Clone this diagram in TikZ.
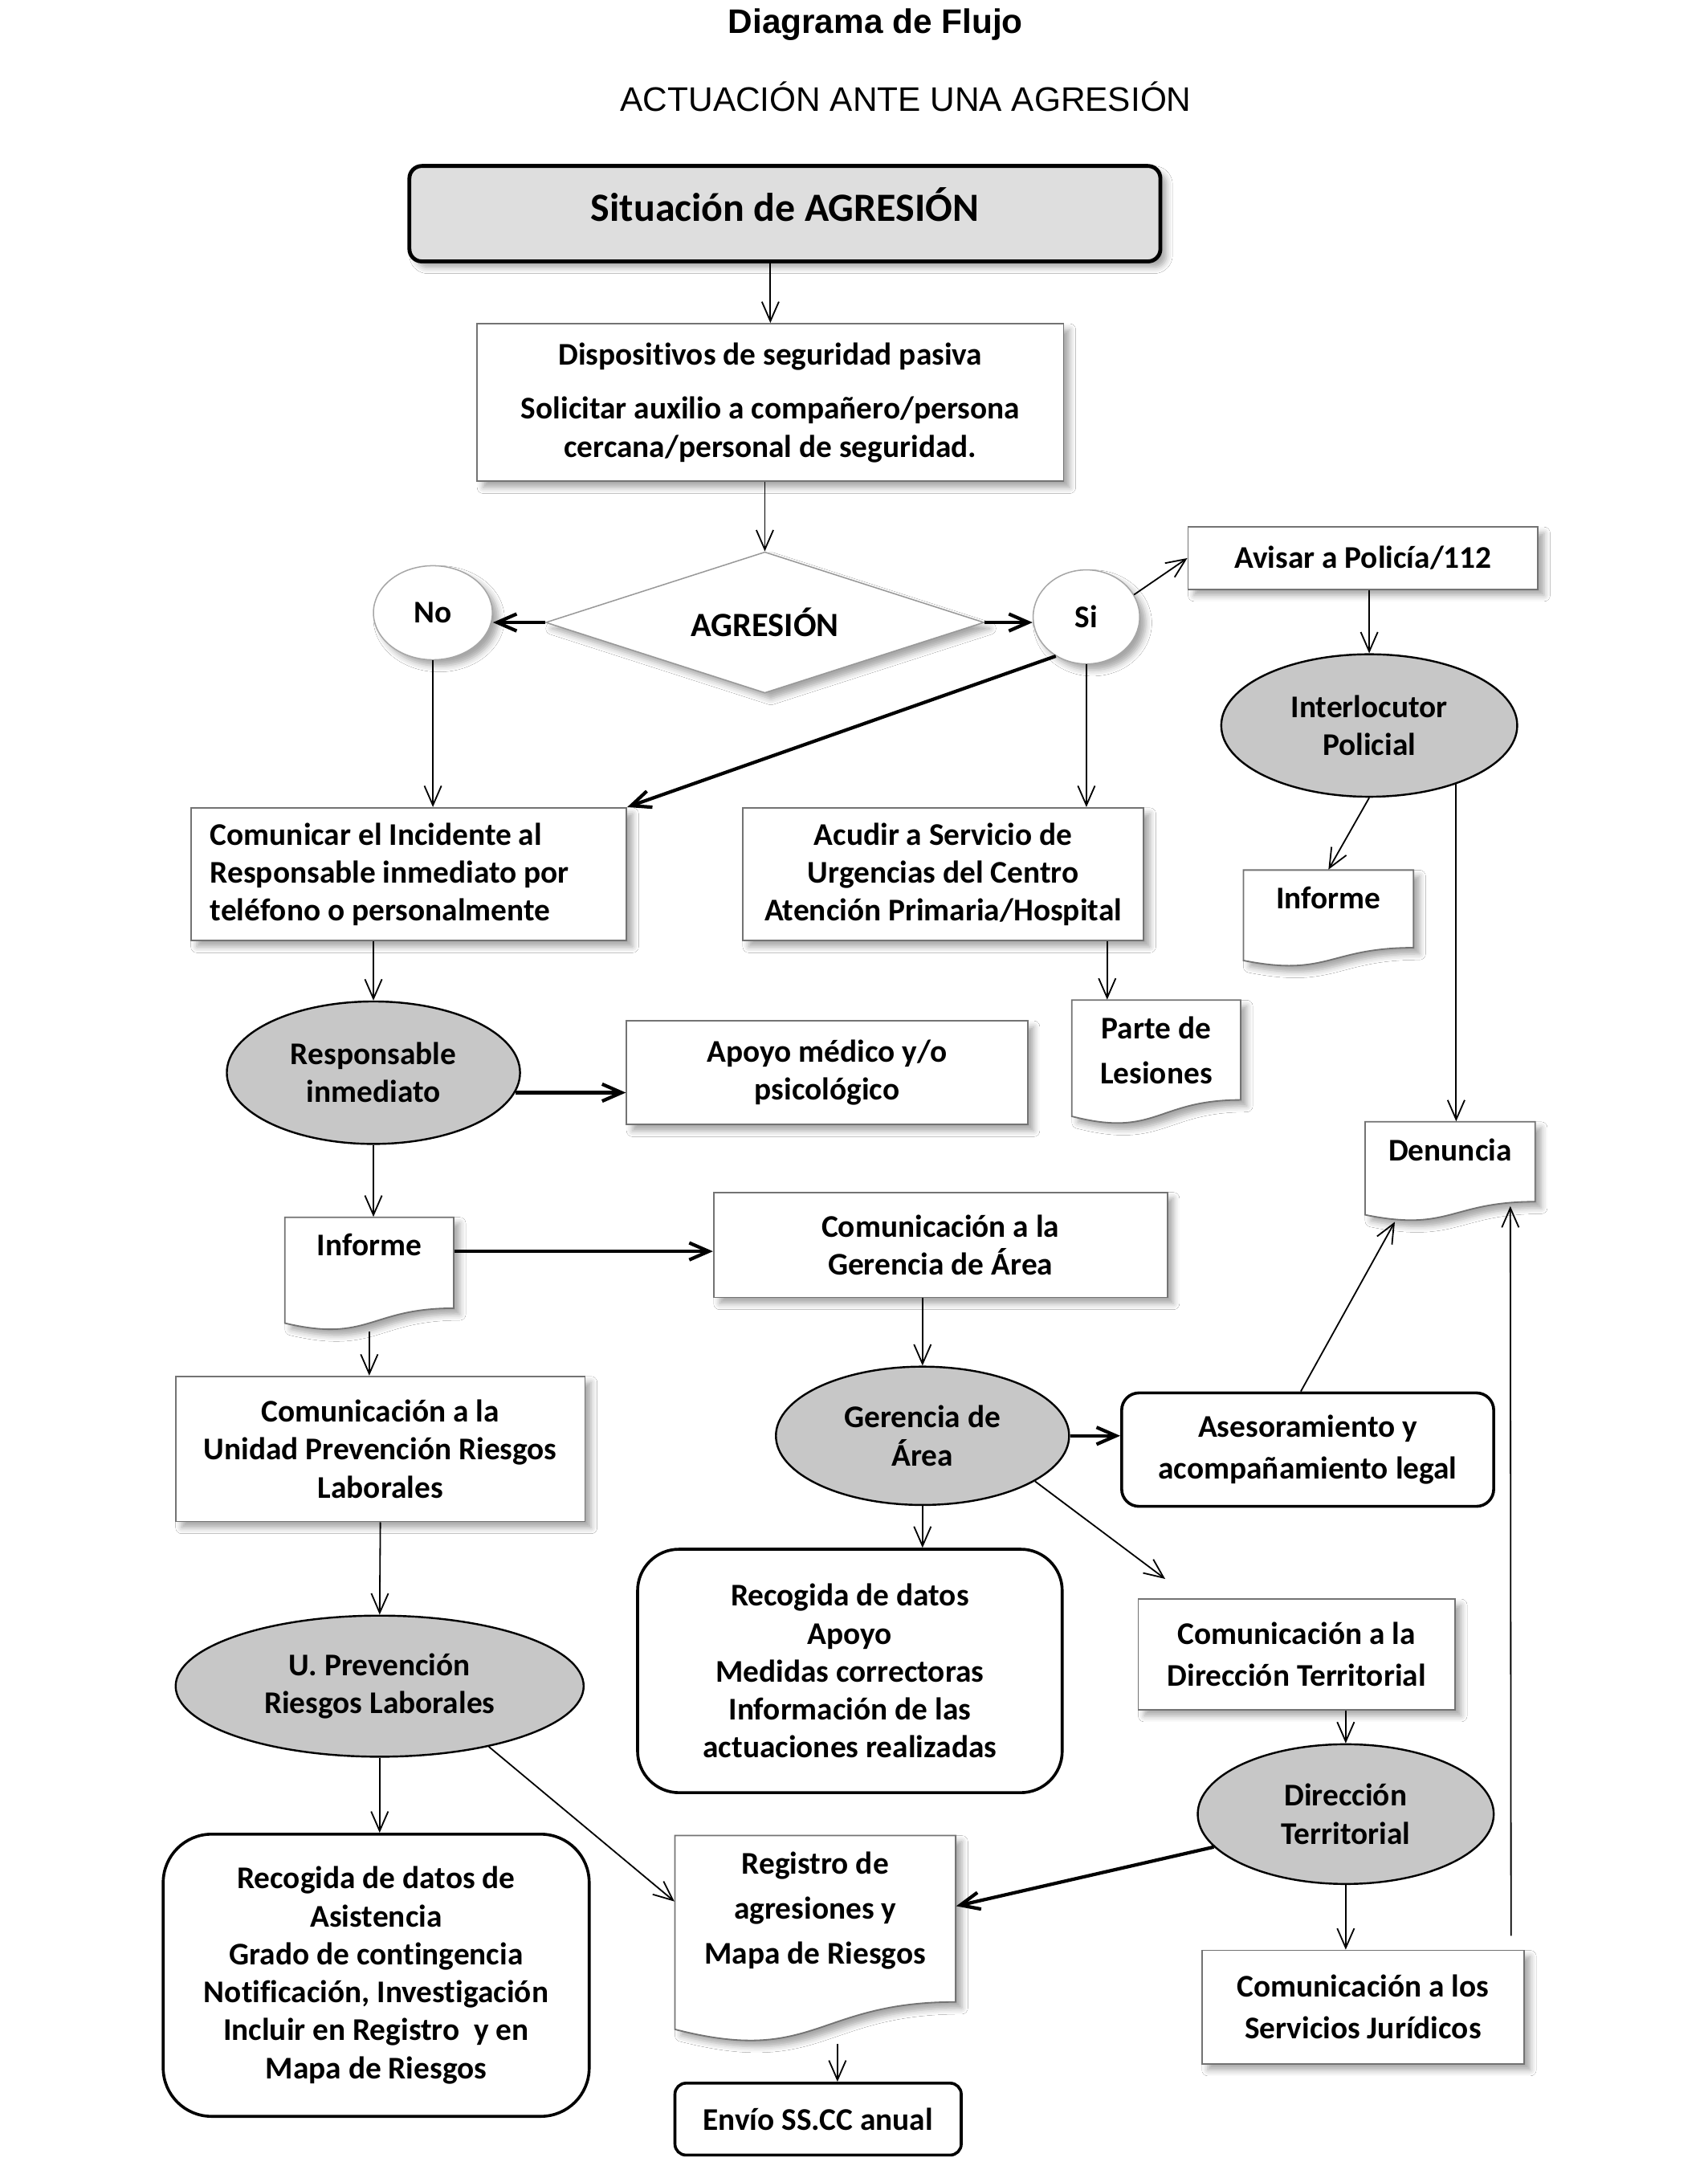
\documentclass[tikz,border=0pt]{standalone}
\usepackage{fontspec}
\setmainfont{Carlito}[Ligatures=NoCommon]
\newfontfamily\arialfont{Liberation Sans}
\usetikzlibrary{shapes.geometric,arrows.meta,calc,shadows.blur}

\newcommand{\pxu}{0.02cm}

\tikzset{
  sz/.style 2 args={minimum width=#1*\pxu, minimum height=#2*\pxu},
  softshadow/.style={blur shadow={shadow xshift=2.5pt, shadow yshift=-2.5pt, shadow opacity=35, shadow blur radius=2.5pt}},
  txt/.style={font=\fontsize{13}{15.6}\selectfont\bfseries, align=flush center},
  plainbox/.style={txt, rectangle, draw=black!55, line width=0.6pt, fill=white, inner sep=2pt, softshadow},
  roundbox/.style={txt, rectangle, rounded corners=#1, draw=black, line width=1.2pt, fill=white},
  grayell/.style={txt, ellipse, draw=black, line width=0.8pt, fill=black!22, inner sep=0pt},
  whiteell/.style={txt, ellipse, draw=black!35, line width=0.5pt, fill=white, inner sep=0pt, softshadow},
  docedge/.style={draw=black!55, line width=0.6pt, fill=white, softshadow},
  doctxt/.style={font=\fontsize{13}{18.5}\selectfont\bfseries, align=flush center, anchor=north, inner sep=0pt},
  arr/.style={-{Straight Barb[length=8pt,width=7pt]}, line width=0.6pt},
  bigarr/.style={arr, line width=1.4pt},
}

% document shape: name, centre x, top y, width, height, text
\newcommand{\docnode}[6]{%
  \path[docedge] (#2-#4/2,#3) -- (#2+#4/2,#3) -- (#2+#4/2,#3+0.802*#5)
    .. controls (#2,#3+0.802*#5) and (#2,#3+1.108*#5) .. (#2-#4/2,#3+0.934*#5) -- cycle;
  \node[sz={#4}{#5}, inner sep=0pt] (#1) at (#2,#3+#5/2) {};
  \node[doctxt] (#1t) at ([yshift=-12*\pxu]#1.north) {#6};
}

\begin{document}
\begin{tikzpicture}[x=0.02cm, y=-0.02cm]
    \path[use as bounding box, fill=white] (0,0) rectangle (1234.4,1568.8);

    % Draw the titles
    \node[font=\arialfont\bfseries\fontsize{14}{16}\selectfont] (title) at (633,18) {Diagrama de Flujo};
    \node[font=\arialfont\fontsize{14}{16}\selectfont] (subtitle) at (655,70) {ACTUACIÓN ANTE UNA AGRESIÓN};

    % Draw the start and the decision
    \node[txt, rectangle, rounded corners=0.18cm, draw=black, line width=1.6pt, fill=black!13,
          font=\fontsize{16.5}{19}\selectfont\bfseries, text depth=0.26cm, sz={543}{69}, softshadow] (start) at (567.5,154.5) {Situación de AGRESIÓN};
    \node[plainbox, sz={424}{114}] (disp) at (557,291)
        {Dispositivos de seguridad pasiva\\[0.24cm]Solicitar auxilio a compañero/persona\\cercana/personal de seguridad.};
    \node[txt, diamond, aspect=3.1, draw=black!40, line width=0.5pt, fill=white, font=\fontsize{14}{16}\selectfont\bfseries,
          sz={317}{102}, inner sep=0pt, softshadow] (agr) at (553,450) {AGRESIÓN};
    \node[whiteell, sz={86}{68}] (no) at (313,443) {No};
    \node[whiteell, sz={77}{68}] (si) at (785.5,446) {Si};

    % Draw the police branch
    \node[plainbox, sz={253}{45}] (avisar) at (985.5,403.5) {Avisar a Policía/112};
    \node[grayell, sz={214}{103}] (interl) at (990,524.5) {Interlocutor\\Policial};
    \docnode{inf1}{960.5}{629}{123}{70}{Informe}
    \docnode{den}{1048.5}{811}{123}{72}{Denuncia}
    \coordinate (denin) at (1092,872);

    % Draw the first row of actions
    \node[plainbox, sz={315}{96}, align=flush left, text width=5.74cm] (comu) at (295.5,632)
        {Comunicar el Incidente al\\Responsable inmediato por\\teléfono o personalmente};
    \node[plainbox, sz={290}{96}] (acudir) at (682,632)
        {Acudir a Servicio de\\Urgencias del Centro\\Atención Primaria/Hospital};
    \docnode{parte}{836}{723}{122}{90}{Parte de\\Lesiones}
    \node[grayell, sz={212}{103}] (resp) at (270,775.5) {Responsable\\inmediato};
    \node[plainbox, sz={290}{75}] (apoyo) at (598,775.5) {Apoyo médico y/o\\psicológico};
    \docnode{inf2}{267}{880}{122}{82}{Informe}

    % Draw the management branch
    \node[plainbox, sz={328}{76}] (gercom) at (680,900) {Comunicación a la\\Gerencia de Área};
    \node[grayell, sz={212}{100}] (ger) at (667,1038) {Gerencia de\\Área};
    \node[roundbox=0.25cm, sz={269}{82}] (asesor) at (945.5,1048) {Asesoramiento y\\[0.06cm]acompañamiento legal};
    \node[roundbox=0.6cm, sz={307}{176}] (recog1) at (614.5,1208)
        {Recogida de datos\\Apoyo\\Medidas correctoras\\Información de las\\actuaciones realizadas};
    \node[plainbox, sz={229}{80}] (dtcom) at (937.5,1196) {Comunicación a la\\[0.06cm]Dirección Territorial};
    \node[grayell, sz={214}{101}] (dt) at (973,1311.5) {Dirección\\Territorial};
    \node[plainbox, sz={233}{82}] (sj) at (985.5,1451) {Comunicación a los\\[0.06cm]Servicios Jurídicos};

    % Draw the prevention branch
    \node[plainbox, sz={296}{105}] (uprlcom) at (275,1047.5) {Comunicación a la\\Unidad Prevención Riesgos\\Laborales};
    \node[grayell, sz={295}{102}] (uprl) at (274.5,1219) {U. Prevención\\Riesgos Laborales};
    \node[roundbox=0.7cm, sz={308}{204}] (recog2) at (272,1428)
        {Recogida de datos de\\Asistencia\\Grado de contingencia\\Notificación, Investigación\\Incluir en Registro~ y en\\Mapa de Riesgos};
    \docnode{reg}{589.5}{1327}{203}{150}{Registro de\\agresiones y\\Mapa de Riesgos}
    \node[roundbox=0.16cm, sz={207}{52}] (envio) at (591.5,1532) {Envío SS.CC anual};

    % Draw the arrows
    \draw[arr] (start.south -| disp.north) -- (disp.north);
    \draw[arr] (disp.south -| agr.north) -- (agr.north);
    \draw[bigarr] (agr.west) -- (agr.west -| no.east);
    \draw[bigarr] (agr.east) -- (agr.east -| si.west);
    \draw[arr] (si.25) -- (avisar.west);
    \draw[arr] (avisar.south -| interl.north) -- (interl.north);
    \draw[arr] (interl.south) -- (inf1.north);
    \draw[arr] (interl.-34) -- (interl.-34 |- den.north);
    \draw[arr] (no.south) -- (no.south |- comu.north);
    \draw[bigarr] (si.232) -- (comu.north east);
    \draw[arr] (si.south) -- (si.south |- acudir.north);
    \draw[arr] ([xshift=-27*\pxu]acudir.south east) -- ([xshift=-27*\pxu]acudir.south east |- parte.north);
    \draw[arr] (comu.south -| resp.north) -- (resp.north);
    \draw[bigarr] (resp.-8) -- (resp.-8 -| apoyo.west);
    \draw[arr] (resp.south) -- (resp.south |- inf2.north);
    \draw[bigarr] ([yshift=-25*\pxu]inf2.north east) -- ([yshift=-25*\pxu]inf2.north east -| gercom.west);
    \draw[arr] (inf2.south) -- (inf2.south |- uprlcom.north);
    \draw[arr] (gercom.south -| ger.north) -- (ger.north);
    \draw[bigarr] (ger.east) -- (ger.east -| asesor.west);
    \draw[arr] ([xshift=-5*\pxu]asesor.north) -- ([xshift=-40*\pxu]den.south);
    \draw[arr] (ger.south) -- (ger.south |- recog1.north);
    \draw[arr] (ger.-22) -- ([xshift=20*\pxu,yshift=14*\pxu]dtcom.north west);
    \draw[arr] (dtcom.south -| dt.north) -- (dt.north);
    \draw[bigarr] (dt.194) -- ([yshift=24*\pxu]reg.east);
    \draw[arr] (dt.south) -- (dt.south |- sj.north);
    \draw[arr] ([xshift=-10*\pxu,yshift=10*\pxu]sj.north east) -- (denin);
    \draw[arr] (uprlcom.south) -- (uprl.north);
    \draw[arr] (uprl.south) -- (uprl.south |- recog2.north);
    \draw[arr] (uprl.-29) -- ([yshift=-48*\pxu]reg.north west);
    \draw[arr] ([xshift=16*\pxu]reg.south) -- ([xshift=16*\pxu]reg.south |- envio.north);
\end{tikzpicture}
\end{document}
